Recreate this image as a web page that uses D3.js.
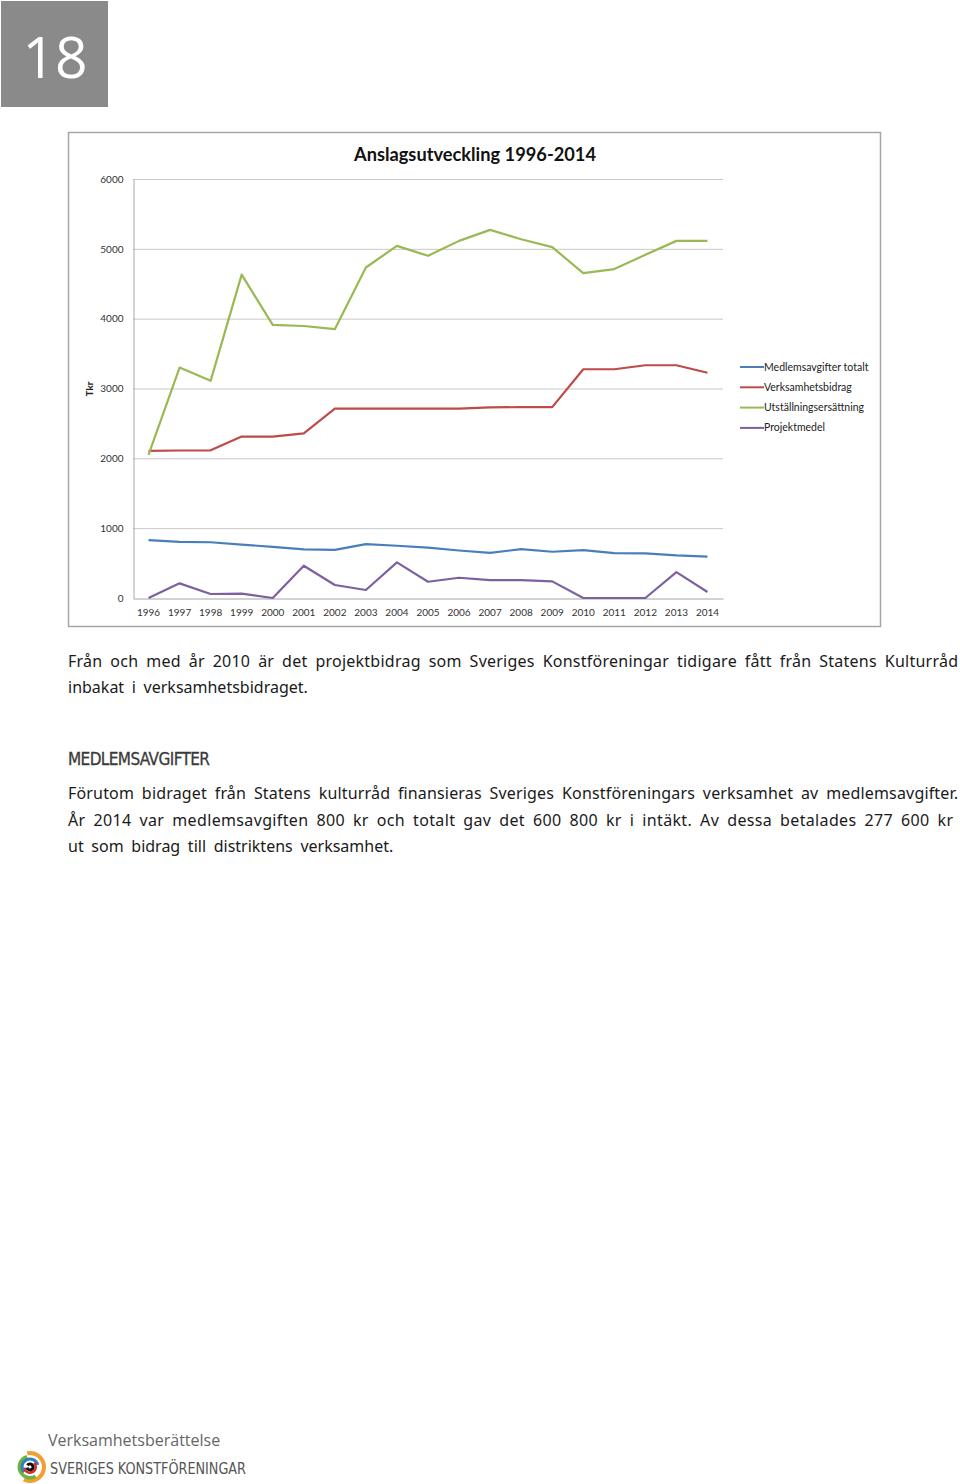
<!DOCTYPE html>
<html><head><meta charset="utf-8">
<script src="https://cdn.jsdelivr.net/npm/d3@7"></script>
<style>
html,body{margin:0;padding:0;background:#fff;}
svg{display:block;}
</style></head>
<body>
<script>
const years = ["1996","1997","1998","1999","2000","2001","2002","2003","2004","2005","2006","2007","2008","2009","2010","2011","2012","2013","2014"];
const medlemsavgifter = [829,805,798,765,732,697,688,771,748,721,680,645,700,662,686,643,638,610,592];
const verksamhetsbidrag = [2108,2112,2115,2312,2312,2357,2712,2712,2712,2712,2712,2730,2733,2733,3276,3276,3333,3333,3226];
const utstallning = [2050,3300,3110,4630,3910,3895,3850,4733,5043,4900,5114,5271,5138,5024,4652,4710,4914,5114,5114];
const projektmedel = [0,210,57,62,0,462,186,114,510,233,290,257,257,238,0,0,0,371,86];
const seriesNames = ["Medlemsavgifter totalt","Verksamhetsbidrag","Utställningsersättning","Projektmedel"];
const seriesColors = ["#4A7EBB","#BE4B48","#98B954","#7D60A0"];
const yTicks = [0,1000,2000,3000,4000,5000,6000];
const chartTitle = "Anslagsutveckling 1996-2014";
const yLabel = "Tkr";

const para1 = ["Från och med år 2010 är det projektbidrag som Sveriges Konstföreningar tidigare fått från Statens Kulturråd",
               "inbakat i verksamhetsbidraget."];
const heading = "MEDLEMSAVGIFTER";
const para2 = ["Förutom bidraget från Statens kulturråd finansieras Sveriges Konstföreningars verksamhet av medlemsavgifter.",
               "År 2014 var medlemsavgiften 800 kr och totalt gav det 600 800 kr i intäkt. Av dessa betalades 277 600 kr",
               "ut som bidrag till distriktens verksamhet."];

const W = 960, H = 1484;
const svg = d3.select("body").append("svg").attr("width", W).attr("height", H);

// page number box
svg.append("rect").attr("x",1).attr("y",1).attr("width",107).attr("height",106).attr("fill","#8a8a8a");
svg.append("text").attr("x",55).attr("y",78).attr("text-anchor","middle")
  .attr("font-family","'Open Sans', sans-serif").attr("font-size",57).attr("fill","#fff").text("18");

// chart frame
svg.append("rect").attr("x",68.5).attr("y",132.5).attr("width",812).attr("height",494)
  .attr("fill","#fff").attr("stroke","#a6a6a6").attr("stroke-width",1.5);

svg.append("text").attr("x",475).attr("y",161).attr("text-anchor","middle")
  .attr("font-family","Lato, 'Open Sans', sans-serif").attr("font-weight","bold").attr("font-size",18)
  .attr("textLength",242).attr("lengthAdjust","spacingAndGlyphs").attr("fill","#111").text(chartTitle);

const x = d3.scaleBand().domain(years).range([133,723]);
const y = d3.scaleLinear().domain([0,6000]).range([598,179]);

const g = svg.append("g");
g.selectAll("line.grid").data(yTicks.filter(d=>d>0)).join("line")
  .attr("x1",133).attr("x2",723).attr("y1",d=>y(d)+0.5).attr("y2",d=>y(d)+0.5)
  .attr("stroke","#c8c8c8").attr("stroke-width",1);

const yAxis = d3.axisLeft(y).tickValues(yTicks).tickSize(0).tickPadding(10).tickFormat(d3.format("d"));
const ya = svg.append("g").attr("transform","translate(133.5,0)").call(yAxis);
ya.select(".domain").attr("stroke","#a6a6a6");
ya.selectAll("text").attr("font-family","Lato, 'Open Sans', sans-serif").attr("font-size",10).attr("fill","#333");

const xAxis = d3.axisBottom(x).tickSize(0).tickPadding(10);
const xa = svg.append("g").attr("transform","translate(0,598.5)").call(xAxis);
xa.select(".domain").attr("stroke","#a6a6a6");
xa.selectAll("text").attr("font-family","Lato, 'Open Sans', sans-serif").attr("font-size",10).attr("fill","#333");

svg.append("text").attr("transform","translate(93,389) rotate(-90)").attr("text-anchor","middle")
  .attr("font-family","Lato, 'Open Sans', sans-serif").attr("font-weight","bold").attr("font-size",10)
  .attr("fill","#222").text(yLabel);

const allSeries = [medlemsavgifter, verksamhetsbidrag, utstallning, projektmedel];
const line = d3.line().x((d,i)=>x(years[i])+x.bandwidth()/2).y(d=>y(d));
[0,1,2,3].forEach(i=>{
  svg.append("path").datum(allSeries[i]).attr("d",line).attr("fill","none")
    .attr("stroke",seriesColors[i]).attr("stroke-width",2.2).attr("stroke-linejoin","round");
});

// legend
const lg = svg.append("g");
seriesNames.forEach((n,i)=>{
  const yy = 367 + i*20.3;
  lg.append("line").attr("x1",740).attr("x2",764).attr("y1",yy).attr("y2",yy)
    .attr("stroke",seriesColors[i]).attr("stroke-width",2);
  lg.append("text").attr("x",764).attr("y",yy+3.5)
    .attr("font-family","Lato, 'Open Sans', sans-serif").attr("font-size",10.5).attr("fill","#222").text(n);
});

// body text
const bodyFont = "'Noto Sans', 'Open Sans', sans-serif";
para1.forEach((t,i)=>{
  const el = svg.append("text").attr("x",68).attr("y",667+i*26)
    .attr("font-family",bodyFont).attr("font-size",16).attr("fill","#1a1a1a")
    .attr("word-spacing",3.5).text(t);
  if(i===0) el.attr("textLength",890).attr("lengthAdjust","spacing");
});
svg.append("text").attr("x",68).attr("y",765).attr("font-family","'Liberation Sans Narrow', 'DejaVu Sans Condensed', sans-serif")
  .attr("font-size",17).attr("fill","#3a3a3a").attr("stroke","#3a3a3a").attr("stroke-width",0.3)
  .attr("letter-spacing",-0.6).text(heading);
para2.forEach((t,i)=>{
  const el = svg.append("text").attr("x",68).attr("y",799+i*26.5)
    .attr("font-family",bodyFont).attr("font-size",16).attr("fill","#1a1a1a")
    .attr("word-spacing",3.5).text(t);
  if(i===0) el.attr("textLength",890).attr("lengthAdjust","spacing");
  if(i===1) el.attr("textLength",885).attr("lengthAdjust","spacing");
});

// footer
svg.append("text").attr("x",48).attr("y",1446).attr("font-family","'Open Sans', sans-serif")
  .attr("font-size",16).attr("fill","#666").text("Verksamhetsberättelse");
svg.append("text").attr("x",50).attr("y",1474).attr("font-family","'Liberation Sans Narrow', 'DejaVu Sans Condensed', sans-serif")
  .attr("font-size",16).attr("fill","#555").attr("textLength",196).attr("lengthAdjust","spacingAndGlyphs").text("SVERIGES KONSTFÖRENINGAR");

// logo
const lgG = svg.append("g").attr("transform","translate(30,1467)");
const arc = d3.arc();
const rings = [
  {r0:12, r1:16, a0:-0.2, a1:3.6, c:"#F0A030"},
  {r0:9, r1:12.5, a0:2.6, a1:6.0, c:"#6BB43F"},
  {r0:6.5, r1:9.5, a0:4.0, a1:7.6, c:"#2E7FC1"},
  {r0:4.5, r1:7, a0:0.8, a1:4.6, c:"#D8302F"},
];
rings.forEach(r=>lgG.append("path").attr("d",arc({innerRadius:r.r0,outerRadius:r.r1,startAngle:r.a0,endAngle:r.a1})).attr("fill",r.c));
lgG.append("path").attr("d",arc({innerRadius:1.5,outerRadius:4.5,startAngle:-1,endAngle:4.5})).attr("fill","#111");
</script>
</body></html>
